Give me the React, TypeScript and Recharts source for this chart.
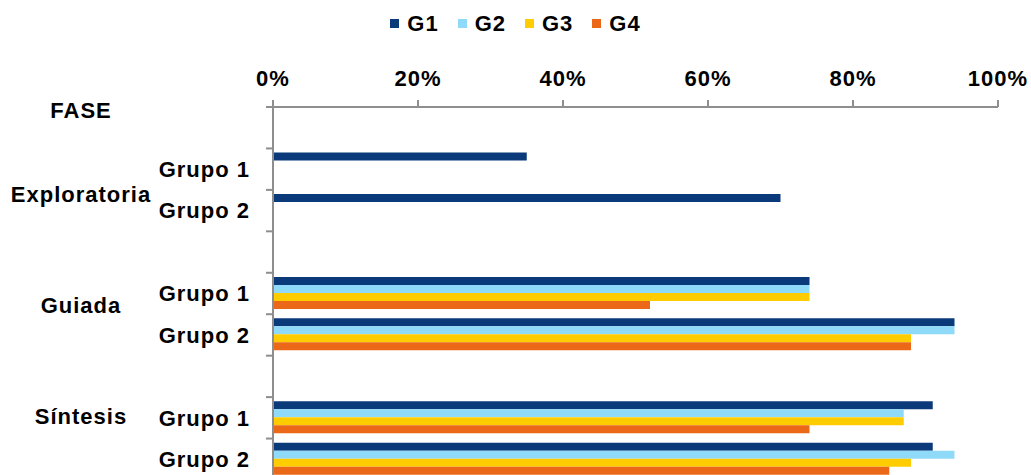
import * as React from "react"
import { Bar, BarChart, Legend, XAxis, YAxis } from "recharts"

// category rows, top to bottom (empty rows are spacers)
const categories = ["", "Grupo 1", "Grupo 2", "", "Grupo 1", "Grupo 2", "", "Grupo 1", "Grupo 2"]
const phases = ["FASE", "Exploratoria", "", "", "Guiada", "", "", "Síntesis", ""]

const g1 = [null, 35, 70, null, 74, 94, null, 91, 91]
const g2 = [null, 0, 0, null, 74, 94, null, 87, 94]
const g3 = [null, 0, 0, null, 74, 88, null, 87, 88]
const g4 = [null, 0, 0, null, 52, 88, null, 74, 85]

const seriesNames = ["G1", "G2", "G3", "G4"]
const xTicks = [0, 20, 40, 60, 80, 100]

const COLORS = ["#0B3A7B", "#8FDAF9", "#FFCC00", "#EB6819"]
const AXIS_COLOR = "#8E8E8E"
const FONT = "'Liberation Sans', Arial, sans-serif"

const W = 1031
const H = 486
const MARGIN = { top: 0, right: 33, bottom: 6, left: 0 }
const LEGEND_H = 47
const XAXIS_H = 60
const AXIS_X = 273
const PLOT_TOP = MARGIN.top + LEGEND_H + XAXIS_H
const PLOT_H = H - PLOT_TOP - MARGIN.bottom
const BAND = PLOT_H / categories.length

// vertical nudge of the phase labels relative to their row centre
const PHASE_DY: Record<string, number> = {
	FASE: -17,
	Exploratoria: 25,
	Guiada: 12,
	Síntesis: -2,
}

const data = categories.map((_, i) => ({
	key: `c${i}`,
	G1: g1[i],
	G2: g2[i],
	G3: g3[i],
	G4: g4[i],
}))

const textStyle = {
	fontFamily: FONT,
	fontWeight: 700,
	fontSize: 22,
	letterSpacing: 1,
	fill: "#000",
}

// eslint-disable-next-line @typescript-eslint/no-explicit-any
const CategoryTick = (props: any) => {
	const { y, payload } = props
	const i = Number(String(payload.value).slice(1))
	const top = y - BAND / 2
	const phase = phases[i]
	return (
		<g>
			<line x1={AXIS_X - 7} x2={AXIS_X} y1={top} y2={top} stroke={AXIS_COLOR} strokeWidth={2} />
			{i === categories.length - 1 && (
				<line
					x1={AXIS_X - 7}
					x2={AXIS_X}
					y1={top + BAND}
					y2={top + BAND}
					stroke={AXIS_COLOR}
					strokeWidth={2}
				/>
			)}
			<text x={AXIS_X - 23} y={y} dy="0.35em" textAnchor="end" style={textStyle}>
				{categories[i]}
			</text>
			{phase && (
				<text x={81} y={y + PHASE_DY[phase]} dy="0.35em" textAnchor="middle" style={textStyle}>
					{phase}
				</text>
			)}
		</g>
	)
}

// eslint-disable-next-line @typescript-eslint/no-explicit-any
const PercentTick = (props: any) => {
	const { x, payload } = props
	return (
		<text x={x} y={PLOT_TOP - 21} textAnchor="middle" style={textStyle}>
			{`${payload.value}%`}
		</text>
	)
}

const renderLegend = () => (
	<div
		style={{
			height: LEGEND_H,
			display: "flex",
			justifyContent: "center",
			alignItems: "center",
			fontFamily: FONT,
		}}>
		{seriesNames.map((name, i) => (
			<div
				key={name}
				style={{ display: "flex", alignItems: "center", marginRight: i < seriesNames.length - 1 ? 19 : 0 }}>
				<span
					style={{
						width: 9,
						height: 9,
						minWidth: 9,
						flexShrink: 0,
						background: COLORS[i],
						marginRight: 8,
						display: "block",
					}}
				/>
				<span style={{ fontSize: 22, fontWeight: 700, letterSpacing: 1, color: "#000", lineHeight: "24px" }}>
					{name}
				</span>
			</div>
		))}
	</div>
)

export default function App() {
	return (
		<div
			style={{
				position: "fixed",
				top: 0,
				left: 0,
				width: W,
				height: 475,
				overflow: "hidden",
				background: "#fff",
			}}>
			<BarChart
				width={W}
				height={H}
				data={data}
				layout="vertical"
				margin={MARGIN}
				barCategoryGap="10%"
				barGap={0}>
				<Legend
					verticalAlign="top"
					align="center"
					content={renderLegend}
					wrapperStyle={{ left: 0, top: 0, width: W, height: LEGEND_H }}
				/>
				<XAxis
					type="number"
					orientation="top"
					domain={[0, 100]}
					ticks={xTicks}
					height={XAXIS_H}
					tickSize={7}
					axisLine={{ stroke: AXIS_COLOR, strokeWidth: 2 }}
					tickLine={{ stroke: AXIS_COLOR, strokeWidth: 2 }}
					tick={<PercentTick />}
				/>
				<YAxis
					type="category"
					dataKey="key"
					width={AXIS_X}
					interval={0}
					tickLine={false}
					axisLine={{ stroke: AXIS_COLOR, strokeWidth: 2 }}
					tick={<CategoryTick />}
				/>
				{seriesNames.map((name, i) => (
					<Bar key={name} dataKey={name} fill={COLORS[i]} isAnimationActive={false} />
				))}
			</BarChart>
		</div>
	)
}
